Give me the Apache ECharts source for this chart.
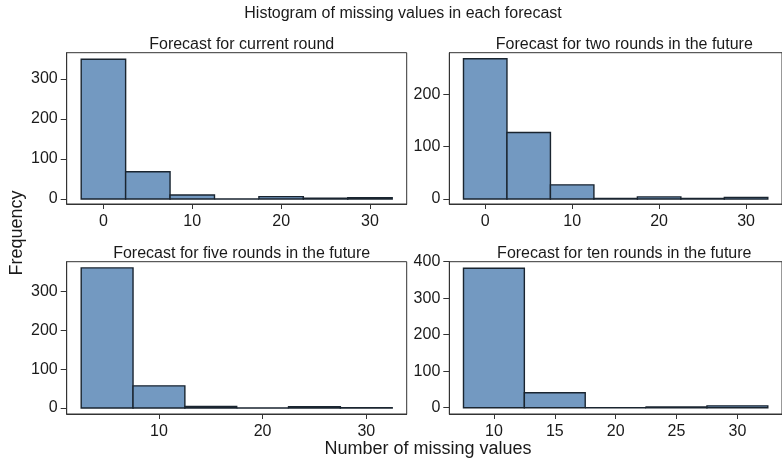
<!DOCTYPE html>
<html>
<head>
<meta charset="utf-8">
<script src="https://cdn.jsdelivr.net/npm/echarts@6/dist/echarts.min.js"></script>
<style>
html,body{margin:0;padding:0;background:#fff;}
#chart{width:782px;height:465px;}
</style>
</head>
<body>
<div id="chart"></div>
<script>
// ---- data ----
const mainTitle = "Histogram of missing values in each forecast";
const yAxisTitle = "Frequency";
const xAxisTitle = "Number of missing values";
const panelTitles = [
  "Forecast for current round",
  "Forecast for two rounds in the future",
  "Forecast for five rounds in the future",
  "Forecast for ten rounds in the future"
];
const binWidth = 5;
const binsCurrent = [0, 5, 10, 15, 20, 25, 30];
const freqCurrent = [349, 68, 10, 0, 6, 2, 3];
const binsTwo = [0, 5, 10, 15, 20, 25, 30];
const freqTwo = [268, 127, 27, 1, 4, 1, 3];
const binsFive = [5, 10, 15, 20, 25, 30];
const freqFive = [361, 57, 4, 0, 3, 1];
const binsTen = [10, 15, 20, 25, 30];
const freqTen = [382, 41, 0, 2, 5];
const xTicksCurrent = [0, 10, 20, 30];
const xTicksTwo = [0, 10, 20, 30];
const xTicksFive = [10, 20, 30];
const xTicksTen = [10, 15, 20, 25, 30];
const yTicksCurrent = [0, 100, 200, 300];
const yTicksTwo = [0, 100, 200];
const yTicksFive = [0, 100, 200, 300];
const yTicksTen = [0, 100, 200, 300, 400];
const yRangeCurrent = [-12.5, 365.5];
const yRangeTwo = [-9.6, 279.7];
const yRangeFive = [-15.5, 377];
const yRangeTen = [-17.3, 400];

// ---- layout ----
const panels = [
  {bins: binsCurrent, freq: freqCurrent, xt: xTicksCurrent, yt: yTicksCurrent, yr: yRangeCurrent, left: 66.7, top: 52.7, h: 151.3},
  {bins: binsTwo, freq: freqTwo, xt: xTicksTwo, yt: yTicksTwo, yr: yRangeTwo, left: 449.3, top: 52.7, h: 151.3},
  {bins: binsFive, freq: freqFive, xt: xTicksFive, yt: yTicksFive, yr: yRangeFive, left: 66.7, top: 261.7, h: 152.3},
  {bins: binsTen, freq: freqTen, xt: xTicksTen, yt: yTicksTen, yr: yRangeTen, left: 449.3, top: 261.7, h: 152.3}
];
const W = 340;
const padFrac = 14.5 / 311;
const FONT = "'Liberation Sans', Arial, Helvetica, sans-serif";
const TXT = '#1a1a1a';
const LINE = '#333333';

const grid = [], xAxis = [], yAxis = [], series = [];
const title = [{
  text: mainTitle, left: 398, top: 1, textAlign: 'center',
  textStyle: {fontFamily: FONT, fontSize: 16, fontWeight: 'normal', color: TXT}
}];

panels.forEach((p, i) => {
  const lo = p.bins[0] - binWidth / 2;
  const hi = p.bins[p.bins.length - 1] + binWidth / 2;
  const pad = (hi - lo) * padFrac;
  grid.push({left: p.left, top: p.top, width: W, height: p.h, show: true,
    borderColor: LINE, borderWidth: 1, backgroundColor: '#fff'});
  xAxis.push({
    type: 'value', gridIndex: i, min: lo - pad, max: hi + pad,
    splitLine: {show: false},
    axisLine: {show: true, onZero: false, lineStyle: {color: LINE, width: 1}},
    axisTick: {show: true, length: 5, customValues: p.xt, lineStyle: {color: LINE}},
    axisLabel: {show: true, customValues: p.xt, margin: 10, fontFamily: FONT, fontSize: 16, color: TXT}
  });
  yAxis.push({
    type: 'value', gridIndex: i, min: p.yr[0], max: p.yr[1],
    splitLine: {show: false},
    axisLine: {show: true, onZero: false, lineStyle: {color: LINE, width: 1}},
    axisTick: {show: true, length: 6, customValues: p.yt, lineStyle: {color: LINE}},
    axisLabel: {show: true, customValues: p.yt, margin: 9, fontFamily: FONT, fontSize: 16, color: TXT}
  });
  series.push({
    type: 'custom', xAxisIndex: i, yAxisIndex: i,
    data: p.bins.map((b, k) => [b, p.freq[k]]),
    renderItem: function (params, api) {
      const c = api.value(0), v = api.value(1);
      const p0 = api.coord([c - binWidth / 2, v]);
      const p1 = api.coord([c + binWidth / 2, 0]);
      return {
        type: 'rect',
        shape: {x: p0[0], y: p0[1], width: p1[0] - p0[0], height: p1[1] - p0[1]},
        style: {fill: '#7399c1', stroke: '#1a2530', lineWidth: 1.4}
      };
    }
  });
  title.push({
    text: panelTitles[i], left: p.left + W / 2, top: p.top - 21, textAlign: 'center',
    textStyle: {fontFamily: FONT, fontSize: 16, fontWeight: 'normal', color: TXT}
  });
});

const chart = echarts.init(document.getElementById('chart'), null, {renderer: 'canvas'});
chart.setOption({
  animation: false,
  backgroundColor: '#ffffff',
  title: title,
  grid: grid, xAxis: xAxis, yAxis: yAxis, series: series,
  graphic: [
    {type: 'text', x: 17, y: 233, rotation: Math.PI / 2,
      style: {text: yAxisTitle, fontFamily: FONT, fontSize: 18, fill: TXT, align: 'center', verticalAlign: 'middle'}},
    {type: 'text', x: 428, y: 449,
      style: {text: xAxisTitle, fontFamily: FONT, fontSize: 18, fill: TXT, align: 'center', verticalAlign: 'middle'}}
  ]
});
</script>
</body>
</html>
